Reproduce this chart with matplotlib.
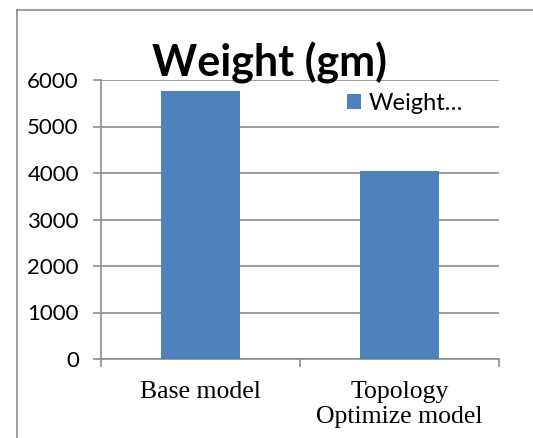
import matplotlib.pyplot as plt
from matplotlib.lines import Line2D

categories = ['Base model', 'Topology\nOptimize model']
weights = [5760, 4040]
yticks = [0, 1000, 2000, 3000, 4000, 5000, 6000]

W, H = 533, 438
fig = plt.figure(figsize=(W / 100, H / 100), dpi=100)

# chart area frame (left and top edges only, the rest runs off the image)
fx, fy = 16.5 / W, 1 - 9.5 / H
fig.add_artist(Line2D([fx, fx], [0, fy], transform=fig.transFigure, color='#8c8c8c', lw=1.2))
fig.add_artist(Line2D([fx, 1], [fy, fy], transform=fig.transFigure, color='#8c8c8c', lw=1.2))

ax = fig.add_axes([101 / W, 79 / H, 398 / W, 279 / H])
x = [0.5, 1.5]
ax.bar(x, weights, width=0.4, color='#4F81BD', label='Weight…', zorder=3)
ax.set_xlim(0, 2)
ax.set_ylim(0, 6000)
ax.set_yticks(yticks)
ax.set_yticklabels([str(v) for v in yticks], fontsize=16, family='Lato')
ax.yaxis.grid(True, color='#8c8c8c', linewidth=1.2, zorder=0)
ax.set_xticks([0, 1, 2], minor=False)
ax.set_xticklabels([])
ax.set_xticks(x, minor=True)
ax.set_xticklabels(categories, minor=True, fontsize=18.5, family='Liberation Serif',
                   linespacing=1.15)
ax.tick_params(axis='x', which='minor', length=0, pad=16)
ax.tick_params(axis='x', which='major', length=6, color='#8c8c8c', width=1.2)
ax.tick_params(axis='y', length=6, color='#8c8c8c', width=1.2, pad=10)
for s in ['top', 'right']:
    ax.spines[s].set_visible(False)
for s in ['left', 'bottom']:
    ax.spines[s].set_color('#8c8c8c')
    ax.spines[s].set_linewidth(1.2)

fig.text(270 / W, 1 - 62.5 / H, 'Weight (gm)', ha='center', va='center',
         fontsize=31, fontweight='bold', family='Lato')

ax.legend(loc='upper left', bbox_to_anchor=(246 / 398, 1 - 12.5 / 279), frameon=False,
          prop={'family': 'Lato', 'size': 17}, handlelength=0.6, handleheight=0.6,
          handletextpad=0.3, borderpad=0, borderaxespad=0)

fig.savefig('out.png', dpi=100)
